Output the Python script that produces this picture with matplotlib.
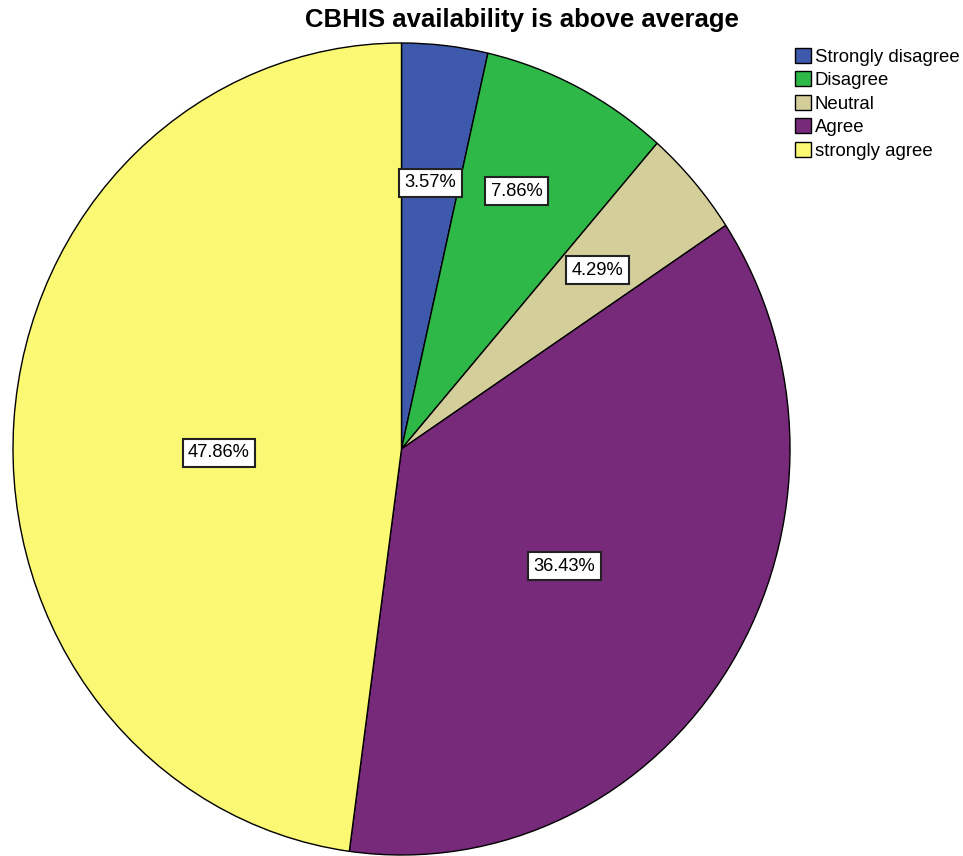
import numpy as np
import matplotlib.pyplot as plt

plt.rcParams['font.family'] = ['Liberation Sans', 'DejaVu Sans']

categories = ['Strongly disagree', 'Disagree', 'Neutral', 'Agree', 'strongly agree']
percentages = [3.57, 7.86, 4.29, 36.43, 47.86]
colors = ['#3E58AC', '#2EB848', '#D4CE9A', '#772A7A', '#FBF873']
# radial position of each value box (fraction of radius) and angular nudge in degrees
label_dist = [0.66, 0.70, 0.67, 0.51, 0.47]
label_nudge = [0.0, 2.0, 0.0, -2.4, 5.0]

W, H = 963, 856
fig = plt.figure(figsize=(W / 100, H / 100), dpi=100)
ax = fig.add_axes([13 / W, 1 / H, 777 / W, 812 / H])

wedges, _ = ax.pie(percentages, colors=colors, startangle=90, counterclock=False,
                   wedgeprops=dict(edgecolor='black', linewidth=1.0))
ax.set_aspect('auto')
ax.set_xlim(-1, 1)
ax.set_ylim(-1, 1)

for w, pct, d, nudge in zip(wedges, percentages, label_dist, label_nudge):
    mid = np.deg2rad((w.theta1 + w.theta2) / 2 + nudge)
    ax.text(d * np.cos(mid), d * np.sin(mid), f'{pct:.2f}%', ha='center', va='center',
            fontsize=13.2,
            bbox=dict(boxstyle='square,pad=0.3', facecolor='white', edgecolor='#222222', linewidth=1.5))

fig.text(522 / W, 1 - 20 / H, 'CBHIS availability is above average', ha='center', va='center',
         fontsize=18.5, fontweight='bold')

fig.legend(wedges, categories, loc='upper left', bbox_to_anchor=(795 / W, 1 - 48 / H),
           frameon=False, fontsize=13.4, borderaxespad=0, borderpad=0,
           handlelength=0.85, handleheight=0.85, handletextpad=0.2, labelspacing=0.3)

fig.savefig('out.png', dpi=100)
